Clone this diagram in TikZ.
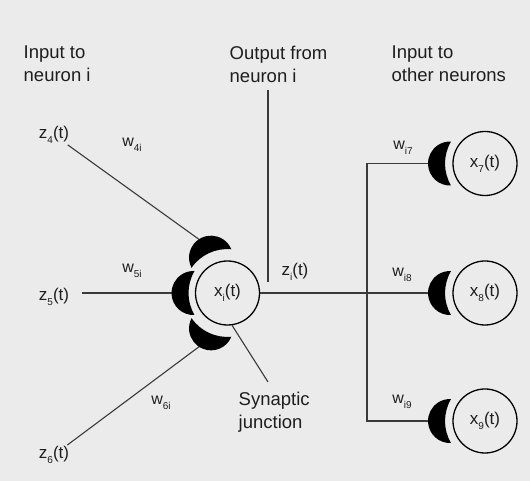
\documentclass[tikz,border=0pt]{standalone}
\usepackage{fontspec}
\setmainfont{Liberation Sans}
% lowered index for signal and weight names
\newcommand\subtxt[1]{\raisebox{-0.3em}{\fontsize{10}{10}\selectfont #1}}
\definecolor{paper}{HTML}{EBEBEB}
\definecolor{ink}{HTML}{1E1E1E}
\definecolor{wirecol}{HTML}{3A3A3A}
\begin{document}
\begin{tikzpicture}[x=1pt,y=1pt,
  hdr/.style={anchor=north west, align=left, inner sep=0pt,
    font=\fontsize{18.5}{22.5}\selectfont, text=ink},
  sig/.style={inner sep=1pt, font=\fontsize{17}{17}\selectfont, text=ink},
  wt/.style={inner sep=1pt, font=\fontsize{16}{16}\selectfont, text=ink},
  neuron/.style={circle, draw=black, line width=1.3pt, minimum size=64pt,
    inner sep=0pt, font=\fontsize{17}{17}\selectfont, text=ink},
  wire/.style={draw=wirecol, line width=1.1pt},
  % crescent-shaped synaptic ending, hollow side towards the origin
  synapse/.pic={
    \fill[black] (33,22) arc[start angle=92.6, end angle=-92.6, radius=22]
      arc[start angle=-30.5, end angle=30.5, radius=43.3] -- cycle;
  }
]
\fill[paper] (0,0) rectangle (530,481);
\useasboundingbox (0,0) rectangle (530,481);

% headings
\node[hdr] (hin)  at (23.5,435) {Input to\\neuron i};
\node[hdr] (hout) at (229.5,435) {Output from\\neuron i};
\node[hdr] (hoth) at (391.5,435) {Input to\\other neurons};
\node[hdr] (hsyn) at (238.5,89) {Synaptic\\junction};

% neurons
\node[neuron] (xi) at (227.5,188) {x\subtxt{i}(t)};
\node[neuron] (x7) at (485,317.5) {x\subtxt{7}(t)};
\node[neuron] (x8) at (485,188) {x\subtxt{8}(t)};
\node[neuron] (x9) at (485,60) {x\subtxt{9}(t)};

% input signals
\node[sig] (z4) at (54,346) {z\subtxt{4}(t)};
\node[sig, inner xsep=13pt] (z5) at (54,184) {z\subtxt{5}(t)};
\node[sig] (z6) at (54,26) {z\subtxt{6}(t)};
\node[sig] (zi) at (295,209) {z\subtxt{i}(t)};

% weights
\node[wt] (w4) at (132,336) {w\subtxt{4i}};
\node[wt] (w5) at (132,210) {w\subtxt{5i}};
\node[wt] (w6) at (161,78) {w\subtxt{6i}};
\node[wt] (w7) at (403,333) {w\subtxt{i7}};
\node[wt] (w8) at (402,206) {w\subtxt{i8}};
\node[wt] (w9) at (402,79) {w\subtxt{i9}};

% points inside the synaptic endings where the wires stop
\coordinate (s4) at ([shift={(115:55)}]xi.center);
\coordinate (s5) at ([shift={(180:48)}]xi.center);
\coordinate (s6) at ([shift={(245:55)}]xi.center);
\coordinate (s7) at ([shift={(180:49)}]x7.center);
\coordinate (s8) at ([shift={(180:49)}]x8.center);
\coordinate (s9) at ([shift={(180:49)}]x9.center);
\coordinate (b7) at (367,317.5);
\coordinate (b9) at (367,60);
\coordinate (outtop) at (268,391);
\coordinate (outbot) at (268,199);
\coordinate (syntip) at (268,99);

% wires
\draw[wire] (z4) -- (s4);
\draw[wire] (s5 -| z5.east) -- (s5);
\draw[wire] (z6) -- (s6);
\draw[wire] (xi) -- (s8);
\draw[wire] (s7) -- (b7) -- (b9) -- (s9);
\draw[wire] (outtop) -- (outbot);
\draw[wire] (syntip) -- (xi.-82);

% synaptic endings
\pic[rotate=115] at ([shift={(115:5)}]xi.center) {synapse};
\pic[rotate=180] at (xi.center) {synapse};
\pic[rotate=245] at ([shift={(245:5)}]xi.center) {synapse};
\pic[rotate=180] at ([shift={(180:1)}]x7.center) {synapse};
\pic[rotate=180] at ([shift={(180:1)}]x8.center) {synapse};
\pic[rotate=180] at ([shift={(180:1)}]x9.center) {synapse};
\end{tikzpicture}
\end{document}
